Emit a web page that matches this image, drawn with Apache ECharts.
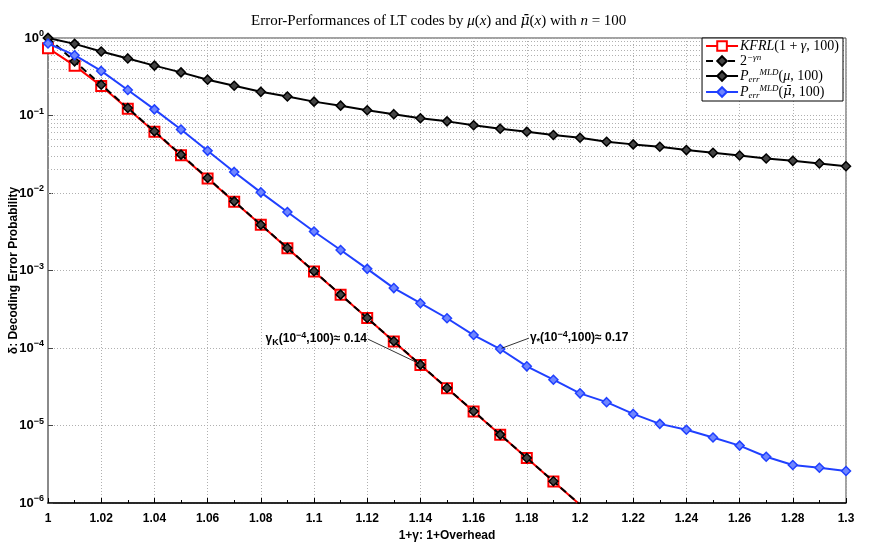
<!DOCTYPE html>
<html>
<head>
<meta charset="utf-8">
<script src="https://cdn.jsdelivr.net/npm/echarts@6/dist/echarts.min.js"></script>
<style>
  html, body { margin: 0; padding: 0; background: #fff; }
  #chart { width: 872px; height: 545px; }
</style>
</head>
<body>
<div id="chart"></div>
<script>
// overhead 1+gamma, step 0.01
var gammaAll = [1.00, 1.01, 1.02, 1.03, 1.04, 1.05, 1.06, 1.07, 1.08, 1.09, 1.10,
                1.11, 1.12, 1.13, 1.14, 1.15, 1.16, 1.17, 1.18, 1.19, 1.20,
                1.21, 1.22, 1.23, 1.24, 1.25, 1.26, 1.27, 1.28, 1.29, 1.30];
var gammaShort = gammaAll.slice(0, 21);

// KFRL(1+gamma,100)
var kfrl = [0.74, 0.44, 0.24, 0.122, 0.0615, 0.0308, 0.0154, 0.0077, 0.00388, 0.00194,
            9.7e-4, 4.85e-4, 2.43e-4, 1.21e-4, 6.05e-5, 3.03e-5, 1.52e-5, 7.6e-6, 3.8e-6, 1.9e-6, 9.5e-7];
// 2^(-gamma n)
var twoPow = [1, 0.5, 0.25, 0.125, 0.0625, 0.03125, 0.0156, 0.0078, 0.0039, 0.00195,
              9.77e-4, 4.88e-4, 2.44e-4, 1.22e-4, 6.1e-5, 3.05e-5, 1.53e-5, 7.63e-6, 3.81e-6, 1.91e-6, 9.54e-7];
// P_err^MLD(mu,100)
var mldMu = [1.0, 0.84, 0.67, 0.545, 0.44, 0.36, 0.29, 0.242, 0.202, 0.176, 0.151,
             0.134, 0.117, 0.104, 0.092, 0.084, 0.0748, 0.0676, 0.0618, 0.056, 0.0517,
             0.0459, 0.0424, 0.0395, 0.0358, 0.033, 0.0305, 0.0279, 0.026, 0.024, 0.0222];
// P_err^MLD(mu bar,100)
var mldMuBar = [0.85, 0.60, 0.376, 0.213, 0.12, 0.066, 0.035, 0.0187, 0.0102, 0.00568, 0.00319,
                0.00184, 0.00105, 5.93e-4, 3.79e-4, 2.42e-4, 1.47e-4, 9.7e-5, 5.8e-5, 3.9e-5, 2.6e-5,
                2.0e-5, 1.41e-5, 1.05e-5, 8.8e-6, 7.0e-6, 5.5e-6, 3.95e-6, 3.09e-6, 2.85e-6, 2.59e-6];

var xTickLabels = ['1', '1.02', '1.04', '1.06', '1.08', '1.1', '1.12', '1.14', '1.16',
                   '1.18', '1.2', '1.22', '1.24', '1.26', '1.28', '1.3'];

function pairs(xs, ys) {
  return ys.map(function (y, i) { return [xs[i], y]; });
}

// minor log grid lines (2..9 per decade)
var minorGrid = [];
for (var e = -6; e < 0; e++) {
  for (var k = 2; k <= 9; k++) {
    minorGrid.push({ yAxis: k * Math.pow(10, e) });
  }
}

var sansFont = 'Liberation Sans';
var serifFont = 'Liberation Serif';
var gridDots = { color: '#b0b0b0', width: 1, type: [1, 2] };

var mathRich = {
  r: { fontFamily: serifFont, fontSize: 14, fontWeight: 'normal', color: '#000', lineHeight: 16 },
  i: { fontFamily: serifFont, fontSize: 14, fontWeight: 'normal', fontStyle: 'italic', color: '#000', lineHeight: 16 },
  m: { fontFamily: 'DejaVu Serif', fontSize: 13, fontWeight: 'normal', fontStyle: 'italic', color: '#000', lineHeight: 16 },
  sup: { fontFamily: serifFont, fontSize: 9, fontWeight: 'normal', fontStyle: 'italic', color: '#000', verticalAlign: 'top', lineHeight: 9 },
  sub: { fontFamily: serifFont, fontSize: 9, fontWeight: 'normal', fontStyle: 'italic', color: '#000', verticalAlign: 'bottom', lineHeight: 9 }
};

var titleRich = {
  r: { fontFamily: serifFont, fontSize: 15, fontWeight: 'normal', color: '#000', lineHeight: 18 },
  i: { fontFamily: serifFont, fontSize: 15, fontWeight: 'normal', fontStyle: 'italic', color: '#000', lineHeight: 18 },
  m: { fontFamily: 'DejaVu Serif', fontSize: 14, fontWeight: 'normal', fontStyle: 'italic', color: '#000', lineHeight: 18 }
};

var legendText = {
  kfrl: '{i|KFRL}{r|(1 + }{i|γ}{r|, 100)}',
  two: '{r|2}{sup|−γn}',
  mu: '{i|P}{sub|err}{sup|MLD}{r|(}{i|μ}{r|, 100)}',
  mubar: '{i|P}{sub|err}{sup|MLD}{r|(}{m|μ̄}{r|, 100)}'
};

var annRich = {
  t: { fontFamily: sansFont, fontSize: 12, fontWeight: 'bold', color: '#000', lineHeight: 16 },
  s: { fontFamily: sansFont, fontSize: 9, fontWeight: 'bold', color: '#000', verticalAlign: 'bottom', lineHeight: 9 },
  p: { fontFamily: sansFont, fontSize: 9, fontWeight: 'bold', color: '#000', verticalAlign: 'top', lineHeight: 9 }
};

var chart = echarts.init(document.getElementById('chart'));
chart.setOption({
  animation: false,
  backgroundColor: '#fff',
  title: {
    text: '{r|Error-Performances of LT codes by }{i|μ}{r|(}{i|x}{r|) and }{m|μ̄}{r|(}{i|x}{r|) with }{i|n}{r| = 100}',
    left: 246,
    top: 7,
    textStyle: { fontWeight: 'normal', rich: titleRich }
  },
  legend: {
    orient: 'vertical',
    right: 29,
    top: 38,
    itemGap: 0,
    itemWidth: 32,
    itemHeight: 12,
    padding: [1, 4, 1, 3],
    backgroundColor: '#fff',
    borderColor: '#000',
    borderWidth: 1,
    data: ['kfrl', 'two', 'mu', 'mubar'],
    formatter: function (name) { return legendText[name]; },
    textStyle: { rich: mathRich, padding: [0, 0, 0, -3] }
  },
  grid: {
    left: 48, right: 26, top: 38, bottom: 42,
    containLabel: false,
    outerBoundsMode: 'none',
    show: true, borderColor: '#444', borderWidth: 1
  },
  xAxis: {
    type: 'value',
    min: 1, max: 1.3, interval: 0.02,
    name: '1+γ: 1+Overhead',
    nameLocation: 'middle',
    nameGap: 27,
    nameMoveOverlap: false,
    nameTextStyle: { fontFamily: sansFont, fontSize: 12, fontWeight: 'bold', color: '#000' },
    axisLine: { lineStyle: { color: '#000', width: 1.5 } },
    axisTick: { inside: true, length: 5, lineStyle: { color: '#000' } },
    minorTick: { show: true, splitNumber: 2, length: 3, lineStyle: { color: '#000' } },
    axisLabel: {
      fontFamily: sansFont, fontSize: 12, fontWeight: 'bold', color: '#000', margin: 10,
      formatter: function (v) {
        var idx = Math.round((v - 1) / 0.02);
        return xTickLabels[idx] || '';
      }
    },
    splitLine: { show: true, lineStyle: gridDots }
  },
  yAxis: {
    type: 'log',
    logBase: 10,
    min: 1e-6, max: 1,
    name: 'δ: Decoding Error Probability',
    nameLocation: 'middle',
    nameGap: 28,
    nameMoveOverlap: false,
    nameTextStyle: { fontFamily: sansFont, fontSize: 12, fontWeight: 'bold', color: '#000' },
    axisLine: { show: true, lineStyle: { color: '#8a8a8a', width: 2 } },
    axisTick: { show: true, inside: true, length: 5, lineStyle: { color: '#444' } },
    axisLabel: {
      margin: 4,
      formatter: function (v) {
        var ex = Math.round(Math.log(v) / Math.LN10);
        return '{b|10}{e|' + (ex === 0 ? '0' : '−' + (-ex)) + '}';
      },
      rich: {
        b: { fontFamily: sansFont, fontSize: 13, fontWeight: 'bold', color: '#000', lineHeight: 17 },
        e: { fontFamily: sansFont, fontSize: 9, fontWeight: 'bold', color: '#000', verticalAlign: 'top', lineHeight: 9 }
      }
    },
    splitLine: { show: true, lineStyle: gridDots }
  },
  series: [
    {
      name: 'kfrl',
      type: 'line',
      data: pairs(gammaShort, kfrl),
      symbol: 'rect',
      symbolSize: 10,
      lineStyle: { color: '#ff0000', width: 2 },
      itemStyle: { color: '#fff', borderColor: '#ff0000', borderWidth: 2 },
      z: 3
    },
    {
      name: 'two',
      type: 'line',
      data: pairs(gammaShort, twoPow),
      symbol: 'diamond',
      symbolSize: 9,
      lineStyle: { color: '#000', width: 2, type: [7, 4] },
      itemStyle: { color: '#444', borderColor: '#000', borderWidth: 1.5 },
      z: 4
    },
    {
      name: 'mu',
      type: 'line',
      data: pairs(gammaAll, mldMu),
      symbol: 'diamond',
      symbolSize: 9,
      lineStyle: { color: '#000', width: 2 },
      itemStyle: { color: '#444', borderColor: '#000', borderWidth: 1.5 },
      z: 4,
      markLine: {
        silent: true,
        z: 1,
        symbol: ['none', 'none'],
        label: { show: false },
        lineStyle: gridDots,
        emphasis: { disabled: true },
        data: minorGrid
      }
    },
    {
      name: 'mubar',
      type: 'line',
      data: pairs(gammaAll, mldMuBar),
      symbol: 'diamond',
      symbolSize: 9,
      lineStyle: { color: '#2040ff', width: 2 },
      itemStyle: { color: '#6f86ff', borderColor: '#2040ff', borderWidth: 1.5 },
      z: 4,
      markLine: {
        silent: true,
        z: 10,
        label: { show: false },
        lineStyle: { color: '#000', width: 0.8, type: 'solid' },
        symbolSize: [0, 8],
        data: [
          [{ coord: [1.1203, 1.30e-4], symbol: 'none' }, { coord: [1.1395, 6.3e-5], symbol: 'arrow' }],
          [{ coord: [1.1808, 1.34e-4], symbol: 'none' }, { coord: [1.1705, 9.9e-5], symbol: 'arrow' }]
        ]
      },
      markPoint: {
        silent: true,
        symbol: 'circle',
        symbolSize: 0,
        data: [
          {
            coord: [1.1203, 1.30e-4],
            label: {
              show: true, position: 'left', distance: 1,
              formatter: '{t|γ}{s|K}{t|(10}{p|−4}{t|,100)≈ 0.14}',
              rich: annRich
            }
          },
          {
            coord: [1.1808, 1.34e-4],
            label: {
              show: true, position: 'right', distance: 1,
              formatter: '{t|γ}{s|*}{t|(10}{p|−4}{t|,100)≈ 0.17}',
              rich: annRich
            }
          }
        ]
      }
    }
  ]
});
</script>
</body>
</html>
